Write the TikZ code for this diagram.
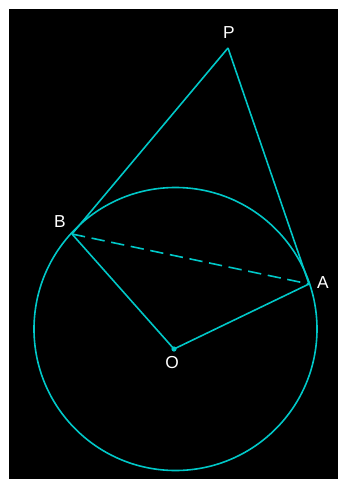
\documentclass[tikz,border=0pt]{standalone}
\usepackage{fontspec}
\setmainfont{Liberation Sans}
\definecolor{geo}{RGB}{0,200,200}
\begin{document}
\begin{tikzpicture}[x=0.75pt,y=-0.75pt, every node/.style={font=\fontsize{13}{15}\selectfont,text=white,inner sep=0pt},
  seg/.style={geo,line width=1.2pt},
  lbl/.style={text=white}]
\useasboundingbox (0,0) rectangle (338,479);
\fill[white] (0,0) rectangle (338,479);
\fill[black] (9,9) rectangle (338,479);
% points
\coordinate (P) at (228,48);
\coordinate (A) at (309,284);
\coordinate (B) at (72,234);
\coordinate (O) at (174,349);
\coordinate (C) at (175.5,329);
% circle
\draw[seg] (C) circle[radius=141.5];
% tangents and radii
\draw[seg] (P) -- (A);
\draw[seg] (P) -- (B);
\draw[seg] (B) -- (O) -- (A);
\draw[seg,dash pattern=on 10pt off 5pt] (B) -- (A);
\fill[geo] (O) circle[radius=2.6];
% labels
\node[lbl] (lP) at (229,33) {P};
\node[lbl] (lB) at (60,222) {B};
\node[lbl] (lA) at (323,283) {A};
\node[lbl] (lO) at (172,363) {O};
\end{tikzpicture}
\end{document}
